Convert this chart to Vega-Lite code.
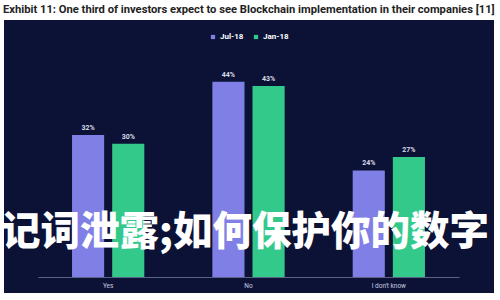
{
  "$schema": "https://vega.github.io/schema/vega-lite/v6.json",
  "width": 490,
  "height": 273,
  "autosize": {"type": "none"},
  "padding": {"left": 4, "top": 20, "right": 6, "bottom": 7},
  "background": "#ffffff",
  "title": {
    "text": "Exhibit 11: One third of investors expect to see Blockchain implementation in their companies [11]",
    "anchor": "start",
    "frame": "group",
    "font": "Roboto",
    "fontSize": 11.2,
    "fontWeight": "bold",
    "color": "#222222",
    "offset": 5,
    "dx": -1
  },
  "data": {
    "values": [
      {"answer": "Yes", "period": "Jul-18", "pct": 32, "label": "32%"},
      {"answer": "Yes", "period": "Jan-18", "pct": 30, "label": "30%"},
      {"answer": "No", "period": "Jul-18", "pct": 44, "label": "44%"},
      {"answer": "No", "period": "Jan-18", "pct": 43, "label": "43%"},
      {"answer": "I don't know", "period": "Jul-18", "pct": 24, "label": "24%"},
      {"answer": "I don't know", "period": "Jan-18", "pct": 27, "label": "27%"}
    ]
  },
  "layer": [
    {
      "mark": {"type": "bar"},
      "encoding": {
        "x": {
          "field": "answer", "type": "nominal", "sort": ["Yes", "No", "I don't know"],
          "scale": {"range": [34, 455], "paddingInner": 0.485, "paddingOuter": 0.2425},
          "axis": {
            "title": null, "orient": "bottom", "offset": -16, "labelAngle": 0,
            "domainColor": "#5a6288", "domainWidth": 1, "ticks": false,
            "labelColor": "#c8cce0", "labelFontSize": 6.5, "labelFont": "Roboto", "labelPadding": 5
          }
        },
        "xOffset": {"field": "period", "type": "nominal", "sort": ["Jul-18", "Jan-18"], "scale": {"paddingInner": 0.2, "paddingOuter": 0}},
        "y": {"field": "pct", "type": "quantitative", "scale": {"domain": [0, 50], "range": [257, 35]}, "axis": null},
        "color": {
          "field": "period", "type": "nominal",
          "scale": {"domain": ["Jul-18", "Jan-18"], "range": ["#7f7fe6", "#33c98b"]},
          "legend": {
            "title": null, "orient": "none", "legendX": 205, "legendY": 13, "direction": "horizontal",
            "symbolType": "square", "symbolSize": 18, "labelColor": "#ffffff", "labelFontSize": 8,
            "labelFont": "Roboto", "labelFontWeight": "bold", "columnPadding": 8, "labelOffset": 3
          }
        }
      }
    },
    {
      "mark": {"type": "text", "baseline": "bottom", "dy": -4, "color": "#d8dae8", "fontSize": 7, "font": "Roboto", "fontWeight": "bold"},
      "encoding": {
        "x": {"field": "answer", "type": "nominal", "sort": ["Yes", "No", "I don't know"]},
        "xOffset": {"field": "period", "type": "nominal", "sort": ["Jul-18", "Jan-18"]},
        "y": {"field": "pct", "type": "quantitative"},
        "text": {"field": "label"}
      }
    },
    {
      "data": {"values": [{"overlay": "记词泄露;如何保护你的数字", "pos": 10}]},
      "mark": {"type": "text", "baseline": "middle", "align": "center", "dx": -4, "color": "#ffffff", "fontSize": 39.5, "font": "Noto Sans CJK SC", "fontWeight": 900},
      "encoding": {
        "y": {"field": "pos", "type": "quantitative"},
        "text": {"field": "overlay"}
      }
    }
  ],
  "config": {
    "view": {"fill": "#0b1235", "stroke": null}
  }
}
